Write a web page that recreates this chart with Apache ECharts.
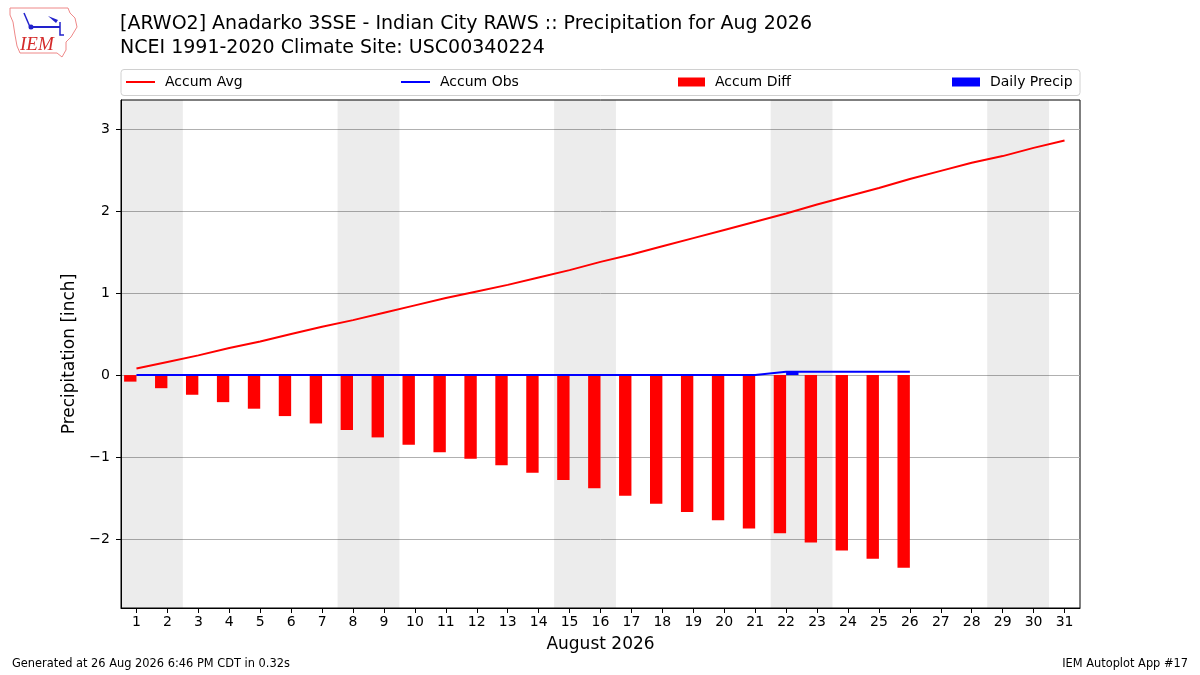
<!DOCTYPE html>
<html>
<head>
<meta charset="utf-8">
<script src="https://cdn.jsdelivr.net/npm/echarts@6/dist/echarts.min.js"></script>
<style>html,body{margin:0;padding:0;background:#fff}#c{width:1200px;height:675px}</style>
</head>
<body>
<div id="c"></div>
<script>
const days = ['1','2','3','4','5','6','7','8','9','10','11','12','13','14','15','16','17','18','19','20','21','22','23','24','25','26','27','28','29','30','31'];
const weekendStarts = ['1','8','15','22','29'];
const yTicks = [-2,-1,0,1,2,3];
const accumAvg = [0.08,0.16,0.24,0.33,0.41,0.50,0.59,0.67,0.76,0.85,0.94,1.02,1.10,1.19,1.28,1.38,1.47,1.57,1.67,1.77,1.87,1.97,2.08,2.18,2.28,2.39,2.49,2.59,2.67,2.77,2.86];
const accumObs = [0,0,0,0,0,0,0,0,0,0,0,0,0,0,0,0,0,0,0,0,0,0.04,0.04,0.04,0.04,0.04];
const accumDiff = [-0.08,-0.16,-0.24,-0.33,-0.41,-0.50,-0.59,-0.67,-0.76,-0.85,-0.94,-1.02,-1.10,-1.19,-1.28,-1.38,-1.47,-1.57,-1.67,-1.77,-1.87,-1.93,-2.04,-2.14,-2.24,-2.35];
const dailyPrecip = [0,0,0,0,0,0,0,0,0,0,0,0,0,0,0,0,0,0,0,0,0,0.04,0,0,0,0];

const FONT = 'DejaVu Sans';
const chart = echarts.init(document.getElementById('c'), null, {renderer:'canvas'});

const legendBase = (name, left, icon, w, h) => ({
  show: true, left: left, top: 75, padding: 0, itemWidth: w, itemHeight: h, itemGap: 0,
  data: [{name: name, icon: icon}],
  textStyle: {fontFamily: FONT, fontSize: 14, color: '#000', padding: [0,0,0,5]},
  selectedMode: false
});

chart.setOption({
  animation: false,
  textStyle: {fontFamily: FONT},
  title: {
    text: '[ARWO2] Anadarko 3SSE - Indian City RAWS :: Precipitation for Aug 2026\nNCEI 1991-2020 Climate Site: USC00340224',
    left: 120, top: 12, padding: 0,
    textStyle: {fontFamily: FONT, fontSize: 19, fontWeight: 'normal', color: '#000', lineHeight: 24}
  },
  legend: [
    legendBase('Accum Avg', 126, 'rect', 29, 2),
    legendBase('Accum Obs', 401, 'rect', 29, 2),
    legendBase('Accum Diff', 678, 'rect', 27, 9),
    legendBase('Daily Precip', 952, 'rect', 28, 9)
  ],
  grid: {left: 121, right: 120, top: 100, bottom: 67, show: true, borderColor: '#000', borderWidth: 1, backgroundColor: 'transparent', containLabel: false},
  xAxis: {
    type: 'category', data: days, boundaryGap: true,
    name: 'August 2026', nameLocation: 'middle', nameGap: 28,
    nameTextStyle: {fontFamily: FONT, fontSize: 17, color: '#000'},
    axisLine: {show: true, onZero: false, lineStyle: {color: '#000', width: 1}},
    axisTick: {show: true, alignWithLabel: true, length: 5, lineStyle: {color: '#000'}},
    axisLabel: {fontFamily: FONT, fontSize: 14, color: '#000', margin: 7, interval: 0},
    splitLine: {show: false}
  },
  yAxis: {
    type: 'value', min: -2.84, max: 3.354, splitNumber: 6,
    name: 'Precipitation [inch]', nameLocation: 'middle', nameGap: 38,
    nameTextStyle: {fontFamily: FONT, fontSize: 17, color: '#000'},
    axisLine: {show: true, lineStyle: {color: '#000', width: 1}},
    axisTick: {show: true, length: 5, lineStyle: {color: '#000'}, customValues: yTicks},
    axisLabel: {fontFamily: FONT, fontSize: 14, color: '#000', margin: 11, customValues: yTicks,
      formatter: v => (Math.abs(v - Math.round(v)) < 1e-6) ? String(Math.round(v)).replace('-', '\u2212') : ''},
    splitLine: {show: true, lineStyle: {color: '#b0b0b0', width: 1}}
  },
  graphic: [
    {type: 'rect', z: -1, shape: {x: 121, y: 69.5, width: 959, height: 26, r: 3}, style: {fill: '#fff', stroke: '#d0d0d0', lineWidth: 1}},
    {type: 'text', left: 12, top: 659, style: {text: 'Generated at 26 Aug 2026 6:46 PM CDT in 0.32s', font: '11.4px "DejaVu Sans"', fill: '#000'}},
    {type: 'text', right: 12, top: 659, style: {text: 'IEM Autoplot App #17', font: '11.4px "DejaVu Sans"', fill: '#000'}},
    {type: 'polygon', shape: {points: [[10,8],[68,8],[70,13],[75,18],[77,27],[74,32],[71,37],[66,42],[66,50],[62,57],[57,53],[20,53],[17,46],[15,35],[13,22],[10,15]]}, style: {fill: '#fff', stroke: '#e88', lineWidth: 1}},
    {type: 'text', left: 20, top: 35, style: {text: 'IEM', font: 'italic 19px "Liberation Serif"', fill: '#d42a2a'}},
    {type: 'polyline', shape: {points: [[30,27],[60,27]]}, style: {stroke: '#22c', lineWidth: 2}},
    {type: 'polyline', shape: {points: [[24,13],[30,27]]}, style: {stroke: '#22c', lineWidth: 1.5}},
    {type: 'circle', shape: {cx: 31, cy: 27, r: 2.5}, style: {fill: '#22c'}},
    {type: 'polygon', shape: {points: [[48,16],[58,20],[56,23]]}, style: {fill: '#22c'}},
    {type: 'polyline', shape: {points: [[60,22],[60,35],[64,35]]}, style: {stroke: '#22c', lineWidth: 1.5}}
  ],
  series: [
    {
      type: 'custom', name: 'weekend', z: 0, silent: true,
      data: weekendStarts.map(d => [d, 0]),
      encode: {x: 0, y: 1},
      renderItem: (params, api) => {
        const x = api.coord([api.value(0), 0])[0];
        const w = api.size([1, 0])[0];
        const cs = params.coordSys;
        return {type: 'rect', shape: {x: x - w / 2, y: cs.y, width: 2 * w, height: cs.height}, style: {fill: 'rgba(0,0,0,0.075)'}};
      }
    },
    {
      type: 'bar', name: 'Accum Diff', data: accumDiff, z: 2,
      itemStyle: {color: '#ff0000'}, barGap: '0%', barCategoryGap: '20%'
    },
    {
      type: 'bar', name: 'Daily Precip', data: dailyPrecip, z: 2,
      itemStyle: {color: '#0000ff'}, barGap: '0%', barCategoryGap: '20%'
    },
    {
      type: 'line', name: 'Accum Avg', data: accumAvg, z: 3,
      showSymbol: false, symbol: 'none', lineStyle: {color: '#ff0000', width: 2}, itemStyle: {color: '#ff0000'}
    },
    {
      type: 'line', name: 'Accum Obs', data: accumObs, z: 3,
      showSymbol: false, symbol: 'none', lineStyle: {color: '#0000ff', width: 2}, itemStyle: {color: '#0000ff'}
    }
  ]
});
</script>
</body>
</html>
